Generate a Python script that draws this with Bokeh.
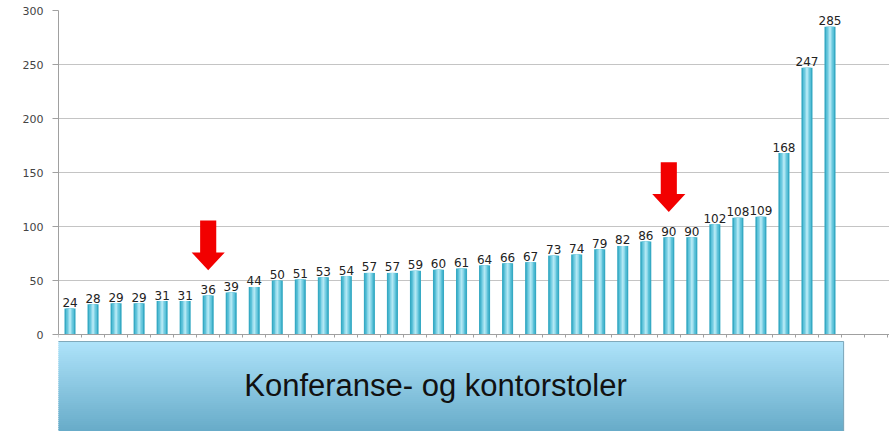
from bokeh.plotting import figure
from bokeh.models import FixedTicker, ColumnDataSource, Range1d
from bokeh.embed import file_html
from bokeh.resources import INLINE
from bokeh.core.properties import value

# ---- data ----
values = [24, 28, 29, 29, 31, 31, 36, 39, 44, 50, 51, 53, 54, 57, 57, 59, 60, 61,
          64, 66, 67, 73, 74, 79, 82, 86, 90, 90, 102, 108, 109, 168, 247, 285]
y_ticks = [0, 50, 100, 150, 200, 250, 300]
arrow_bars = [6, 26]          # bars marked with a red arrow
caption = "Konferanse- og kontorstoler"
n_slots = 36                  # category slots drawn on the x axis

# ---- layout constants ----
px_per_cat = 23.03
px_per_unit = 1.08
frame_w = 831
frame_h = 421
x_start = -0.5
x_end = x_start + frame_w / px_per_cat
y_end = 300
y_start = y_end - frame_h / px_per_unit

idx = list(range(len(values)))
labels = [str(v) for v in values]

p = figure(frame_width=frame_w, frame_height=frame_h,
           x_range=Range1d(x_start, x_end), y_range=Range1d(y_start, y_end),
           output_backend="svg", toolbar_location=None,
           min_border_left=58, min_border_top=10, min_border_right=0, min_border_bottom=0)
p.outline_line_color = None
p.background_fill_color = "white"

# axes
p.yaxis.bounds = (0, 300)
p.yaxis.ticker = FixedTicker(ticks=y_ticks)
p.yaxis.axis_line_color = "#a0a0a0"
p.yaxis.major_tick_line_color = "#a0a0a0"
p.yaxis.major_tick_in = 0
p.yaxis.major_tick_out = 6
p.yaxis.minor_tick_line_color = None
p.yaxis.major_label_standoff = 9
p.yaxis.major_label_text_font = "DejaVu Sans"
p.yaxis.major_label_text_font_size = "11px"
p.yaxis.major_label_text_color = "#444444"

p.xaxis.fixed_location = 0
p.xaxis.ticker = FixedTicker(ticks=[], minor_ticks=[i - 0.5 for i in range(n_slots + 1)])
p.xaxis.axis_line_color = "#a0a0a0"
p.xaxis.major_tick_line_color = None
p.xaxis.minor_tick_line_color = "#a0a0a0"
p.xaxis.minor_tick_in = 0
p.xaxis.minor_tick_out = 3

p.xgrid.visible = False
p.ygrid.ticker = FixedTicker(ticks=y_ticks)
p.ygrid.grid_line_color = "#c4c4c4"

# bars (layered to imitate the cylindrical gradient)
src = ColumnDataSource(dict(x=idx, top=values, label=labels))
p.vbar(x="x", top="top", bottom=0, width=0.48, source=src, fill_color="#36aac4", line_color=None)
p.vbar(x="x", top="top", bottom=0, width=0.34, source=src, fill_color="#5cc2d9", line_color=None)
p.vbar(x="x", top="top", bottom=0, width=0.2, source=src, fill_color="#8ad6e8", line_color=None)
p.vbar(x="x", top="top", bottom=0, width=0.08, source=src, fill_color="#b2e8f4", line_color=None)

p.text(x="x", y="top", text="label", source=src, text_align="center",
       text_baseline="alphabetic", y_offset=-6, text_font=value("DejaVu Sans"),
       text_font_size="12px", text_color="#222222")

# red arrows
tip_off, base_off, top_off = 23.5, 40, 69.5
shaft_hw, head_hw = 0.35, 0.72
axs, ays = [], []
for b in arrow_bars:
    v = values[b]
    axs.append([b - shaft_hw, b + shaft_hw, b + shaft_hw, b + head_hw, b, b - head_hw, b - shaft_hw])
    ays.append([v + top_off, v + top_off, v + base_off, v + base_off, v + tip_off, v + base_off, v + base_off])
p.patches(xs=axs, ys=ays, fill_color="#f20000", line_color=None)

# caption box with vertical gradient
box_left = -0.5 - 0.26
box_right = len(values) - 0.5 + 0.09
box_top = -6.5
n_strips = 45
c0 = (0xAE, 0xE3, 0xFA)
c1 = (0x68, 0xAC, 0xC9)
tops, bots, cols = [], [], []
for i in range(n_strips):
    t = i / (n_strips - 1)
    y0 = box_top + (y_start - box_top) * i / n_strips
    y1 = box_top + (y_start - box_top) * (i + 1) / n_strips
    tops.append(y0)
    bots.append(y1)
    cols.append("#%02x%02x%02x" % tuple(int(round(a + (b - a) * t)) for a, b in zip(c0, c1)))
p.quad(left=box_left, right=box_right, top=tops, bottom=bots, fill_color=cols,
       line_color=cols, line_width=1)
p.quad(left=[box_left], right=[box_right], top=[box_top], bottom=[y_start],
       fill_color=None, line_color="#7fa8ba", line_width=1)

caption_x = 15.87
caption_y = -47
p.text(x=[caption_x], y=[caption_y], text=[caption], text_align="center",
       text_baseline="alphabetic", text_font=value("Liberation Sans"),
       text_font_size="31px", text_color="#111111")

open("out.html", "w").write(file_html(p, INLINE))
